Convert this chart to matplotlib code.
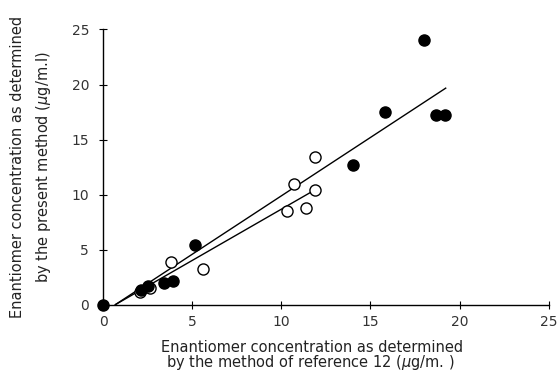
import matplotlib
matplotlib.use("Agg")
import matplotlib.pyplot as plt
import numpy as np

plt.rcParams['font.family'] = ['DejaVu Sans']

# Filled circles
filled_x = [0.0, 2.15, 2.5, 3.4, 3.9, 5.15, 14.0, 15.8, 18.0, 18.7, 19.2]
filled_y = [0.0, 1.4, 1.7, 2.0, 2.2, 5.4, 12.7, 17.5, 24.0, 17.2, 17.2]
# Open circles
open_x = [2.1, 2.65, 3.8, 5.6, 10.3, 10.7, 11.4, 11.9, 11.9]
open_y = [1.15, 1.5, 3.9, 3.25, 8.5, 11.0, 8.8, 10.4, 13.4]

# Regression lines: slope, intercept, x-range
line_slopes = [1.06, 0.93]
line_intercepts = [-0.70, -0.61]
line_x_start = [0.66, 0.66]
line_x_end = [19.25, 11.7]

xticks = [0, 5, 10, 15, 20, 25]
yticks = [0, 5, 10, 15, 20, 25]

fig = plt.figure(figsize=(5.6, 3.77), dpi=100)
ax = fig.add_axes([0.184, 0.191, 0.796, 0.731])

for m, b, x0, x1 in zip(line_slopes, line_intercepts, line_x_start, line_x_end):
    xs = np.array([x0, x1])
    ax.plot(xs, m * xs + b, color='black', lw=1.0, zorder=2, solid_capstyle='butt')

ax.scatter(open_x, open_y, s=64, facecolors='white', edgecolors='black',
           linewidths=1.0, zorder=3, clip_on=False)
ax.scatter(filled_x, filled_y, s=64, color='black', zorder=4, clip_on=False)

ax.set_xlim(0, 25)
ax.set_ylim(0, 25)
ax.set_xticks(xticks)
ax.set_yticks(yticks)
ax.spines['top'].set_visible(False)
ax.spines['right'].set_visible(False)
for s in ['left', 'bottom']:
    ax.spines[s].set_linewidth(1.0)
ax.tick_params(direction='inout', length=6, width=0.8, labelsize=10,
               labelcolor='#333333')
ax.tick_params(axis='x', pad=4)
ax.tick_params(axis='y', pad=7)

tc = '#222222'
fig.text(312 / 560, 1 - 347 / 377, 'Enantiomer concentration as determined',
         ha='center', va='center', fontsize=10.5, color=tc)
fig.text(310 / 560, 1 - 363 / 377, 'by the method of reference 12 ($\\mu$g/m. )',
         ha='center', va='center', fontsize=10.5, color=tc)
fig.text(18 / 560, 1 - 167 / 377, 'Enantiomer concentration as determined',
         ha='center', va='center', rotation=90, fontsize=10.5, color=tc)
fig.text(44 / 560, 1 - 167 / 377, 'by the present method ($\\mu$g/m.l)',
         ha='center', va='center', rotation=90, fontsize=10.5, color=tc)

fig.savefig('out.png', dpi=100)
